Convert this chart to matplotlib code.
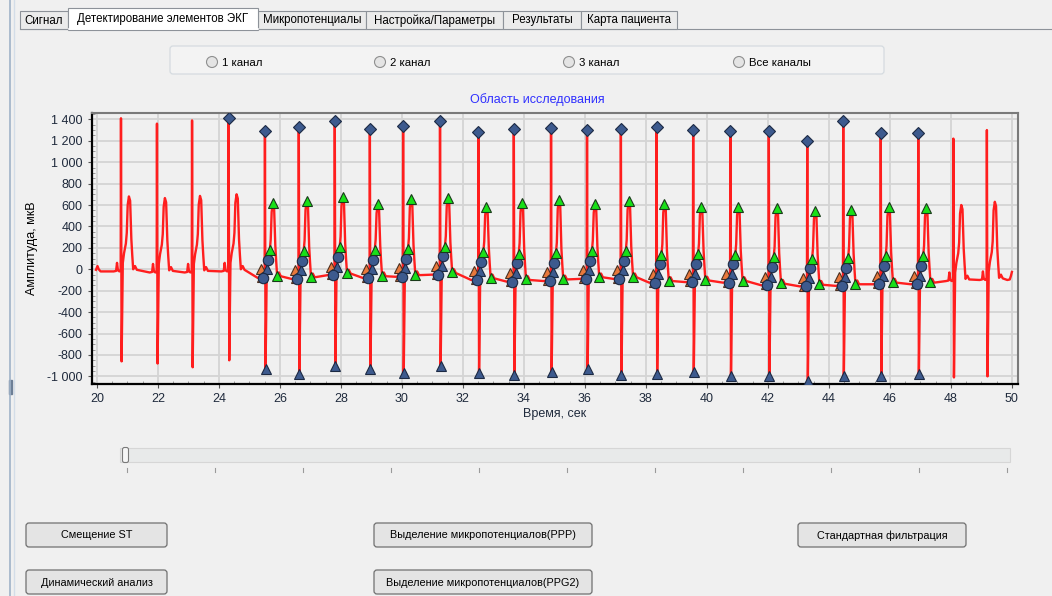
import numpy as np
import matplotlib
matplotlib.use('Agg')
import matplotlib.pyplot as plt
from matplotlib.patches import Rectangle, FancyBboxPatch, Circle
from matplotlib.ticker import MultipleLocator, FuncFormatter

plt.rcParams['font.family'] = ['Liberation Sans', 'DejaVu Sans']

W, H = 1052, 596

# ---- ECG beats ----
# time of R peak (s) and amplitudes (uV)
r_time = [20.79, 21.97, 23.12, 24.32, 25.51, 26.62, 27.80, 28.95, 30.04, 31.25,
          32.51, 33.67, 34.89, 36.07, 37.18, 38.35, 39.55, 40.77, 42.03, 43.29,
          44.47, 45.70, 46.93, 48.08, 49.18]
r_amp = [1410, 1360, 1390, 1410, 1290, 1330, 1380, 1310, 1340, 1380,
         1280, 1310, 1320, 1300, 1310, 1330, 1300, 1290, 1290, 1200,
         1380, 1270, 1270, 1220, 1300]
s_amp = [-860, -880, -915, -850, -930, -980, -900, -930, -965, -905,
         -965, -985, -955, -930, -985, -980, -960, -995, -995, -1040,
         -995, -995, -980, -1010, -1000]
t_amp = [680, 665, 685, 700, 615, 635, 675, 605, 655, 665,
         585, 615, 645, 610, 635, 610, 585, 585, 570, 548,
         555, 578, 570, 600, 630]
iso_level = [-20, -30, -30, -20, -80, -90, -55, -80, -70, -50,
             -100, -115, -110, -90, -90, -125, -120, -125, -150, -160,
             -155, -140, -140, -110, -100]
# which detected elements are drawn on each beat
detected = ['', '', '', 'R'] + ['all'] * 19 + ['', '']

# one complex as seen on screen: (time from R, reference, offset)
beat_shape = [(-0.24, 'iso', 0), (-0.16, 'iso', 5), (-0.13, 'iso', 80),
              (-0.10, 'iso', 10), (-0.05, 'iso', 0), (-0.01, 'iso', 20),
              (0.00, 'R', 0), (0.02, 'S', 0), (0.06, 'iso', 80),
              (0.10, 'iso', 170), (0.16, 'iso', 260), (0.19, 'iso', 360),
              (0.22, 'T', -80), (0.26, 'T', 0), (0.30, 'T', -40),
              (0.34, 'iso', 300), (0.37, 'iso', 150), (0.40, 'iso', 20),
              (0.46, 'iso', 50), (0.52, 'iso', 15)]
lead_t, lead_v = [19.97, 20.02, 20.06, 20.12, 20.40], [-5, 30, 0, -20, -20]
tail_t, tail_v = [49.85, 49.93, 49.97, 50.0], [-100, -95, -60, -25]

# detected points: time from R for each marker group
orange_dt = [-0.13, -0.09]
navy_circle_dt = [-0.05, 0.10]
navy_tri_dt = [0.02, 0.06]
green_dt = [0.16, 0.26, 0.40]

# tabs / controls text
tab_labels = ['Сигнал', 'Детектирование элементов ЭКГ', 'Микропотенциалы',
              'Настройка/Параметры', 'Результаты', 'Карта пациента']
radio_labels = ['1 канал', '2 канал', '3 канал', 'Все каналы']
button_labels = ['Смещение ST', 'Выделение микропотенциалов(PPP)',
                 'Стандартная фильтрация', 'Динамический анализ',
                 'Выделение микропотенциалов(PPG2)']

# build the trace
trace_t = list(lead_t)
trace_v = list(lead_v)
for i, r in enumerate(r_time):
    ref = {'iso': iso_level[i], 'R': r_amp[i], 'S': s_amp[i], 'T': t_amp[i]}
    for dt, kind, off in beat_shape:
        trace_t.append(r + dt)
        trace_v.append(ref[kind] + off)
trace_t += tail_t
trace_v += tail_v
trace_t = np.array(trace_t)
trace_v = np.array(trace_v)

fig = plt.figure(figsize=(W / 100, H / 100), dpi=100, facecolor='#f0f0f0')

# ---- window chrome drawn in pixel coordinates ----
ui = fig.add_axes([0, 0, 1, 1], zorder=0)
ui.set_xlim(0, W)
ui.set_ylim(H, 0)
ui.axis('off')

ui.plot([10, 10], [0, H], color='#9fb2c8', lw=1.2)
ui.plot([14, 14], [0, H], color='#d3dde8', lw=1.0)
ui.add_patch(Rectangle((9, 380), 3, 14, color='#6d7f96'))

tab_edges = [20, 68, 258, 366, 503, 581, 677]
ui.plot([20, 1052], [29, 29], color='#8d9299', lw=0.8)
for k, lab in enumerate(tab_labels):
    x0, x1 = tab_edges[k], tab_edges[k + 1]
    if k == 1:
        ui.add_patch(Rectangle((x0, 8), x1 - x0, 21.5, facecolor='white',
                               edgecolor='#8d9299', lw=0.8, zorder=3))
        ui.plot([x0 + 0.5, x1 - 0.5], [29, 29], color='white', lw=1.2, zorder=4)
        ui.text((x0 + x1) / 2, 19, lab, ha='center', va='center',
                fontsize=8.3, color='black', zorder=5)
    else:
        ui.add_patch(Rectangle((x0, 11), x1 - x0, 18, facecolor='#ebebeb',
                               edgecolor='#8d9299', lw=0.8, zorder=2))
        ui.text((x0 + x1) / 2, 20.5, lab, ha='center', va='center',
                fontsize=8.3, color='black', zorder=5)

ui.add_patch(FancyBboxPatch((170, 46), 714, 28,
                            boxstyle='round,pad=0,rounding_size=3',
                            facecolor='#f3f3f3', edgecolor='#d5dbe0', lw=0.9))
for x, lab in zip([212, 380, 569, 739], radio_labels):
    ui.add_patch(Circle((x, 62), 5.5, facecolor='#e4e4e4', edgecolor='#8e8f8f', lw=0.8))
    ui.text(x + 10, 62.5, lab, ha='left', va='center', fontsize=8.2)

ui.add_patch(Rectangle((120, 448), 890, 14, facecolor='#e8eaea',
                       edgecolor='#d6d6d6', lw=0.8))
ui.add_patch(FancyBboxPatch((122.5, 447.5), 6, 15,
                            boxstyle='round,pad=0,rounding_size=2',
                            facecolor='#f6f6f6', edgecolor='#7a7a7a', lw=0.8))
for x in np.linspace(127, 1007, 11):
    ui.plot([x, x], [468, 472], color='#9a9a9a', lw=0.8)

button_boxes = [(26, 523, 141), (374, 523, 218), (798, 523, 168),
                (26, 570, 141), (374, 570, 218)]
for (x, y, w), lab in zip(button_boxes, button_labels):
    ui.add_patch(FancyBboxPatch((x, y), w, 24,
                                boxstyle='round,pad=0,rounding_size=3',
                                facecolor='#e4e4e4', edgecolor='#707070', lw=0.9))
    ui.text(x + w / 2, y + 12.5, lab, ha='center', va='center', fontsize=7.8)

# ---- the chart ----
ax = fig.add_axes([91.7 / W, 1 - 384.3 / H, (1018 - 91.7) / W, (384.3 - 112.7) / H],
                  zorder=1)
ax.set_facecolor('#f0f0f0')
ax.plot(trace_t, trace_v, color='#ff1e1e', lw=1.7, zorder=3)

mk = dict(linestyle='none', markeredgewidth=0.8, zorder=4)
for i, r in enumerate(r_time):
    if detected[i] == 'all':
        pts = lambda dts: (np.array(dts) + r, np.interp(np.array(dts) + r, trace_t, trace_v))
        x, y = pts(orange_dt)
        ax.plot(x, y, marker='^', markersize=7.5, color='#e8783c', markeredgecolor='#4a3020', **mk)
        x, y = pts(navy_tri_dt)
        ax.plot(x, y, marker='^', markersize=7.5, color='#3d5a8e', markeredgecolor='#1c2a44', **mk)
        x, y = pts(navy_circle_dt)
        ax.plot(x, y, marker='o', markersize=7.5, color='#3d5a8e', markeredgecolor='#1c2a44', **mk)
        x, y = pts(green_dt)
        ax.plot(x, y, marker='^', markersize=7.5, color='#18e018', markeredgecolor='#1a3a1a', **mk)
    if detected[i] in ('R', 'all'):
        ax.plot([r], [r_amp[i]], marker='D', markersize=6.5, color='#3d5a8e',
                markeredgecolor='#1c2a44', **mk)

ax.set_xlim(19.83, 50.2)
ax.set_ylim(-1074, 1462)
ax.xaxis.set_major_locator(MultipleLocator(2))
ax.xaxis.set_minor_locator(MultipleLocator(0.5))
ax.yaxis.set_major_locator(MultipleLocator(200))
ax.yaxis.set_minor_locator(MultipleLocator(50))
ax.yaxis.set_major_formatter(FuncFormatter(lambda v, p: f'{int(v):,}'.replace(',', ' ')))
ax.grid(True, which='major', color='#d4d4d4', lw=1.3, zorder=0)
ax.set_axisbelow(True)
ax.tick_params(which='major', direction='out', length=3, pad=3.5,
               labelsize=9, labelcolor='#1f2a3c', color='#555555')
ax.tick_params(which='minor', direction='in', length=2, color='#8a8a8a')
for side in ('left', 'bottom'):
    ax.spines[side].set_color('black')
    ax.spines[side].set_linewidth(1.6)
for side in ('top', 'right'):
    ax.spines[side].set_color('#7a7a7a')
    ax.spines[side].set_linewidth(1.5)

fig.text(537 / W, 1 - 100 / H, 'Область исследования', ha='center', va='center',
         fontsize=9, color='#2f2fff')
fig.text(555 / W, 1 - 414 / H, 'Время, сек', ha='center', va='center',
         fontsize=9, color='#1f2a3c')
fig.text(32 / W, 1 - 248 / H, 'Амплитуда, мкВ', ha='center', va='center',
         rotation=90, fontsize=9, color='black')

fig.savefig('out.png', dpi=100, facecolor=fig.get_facecolor())
